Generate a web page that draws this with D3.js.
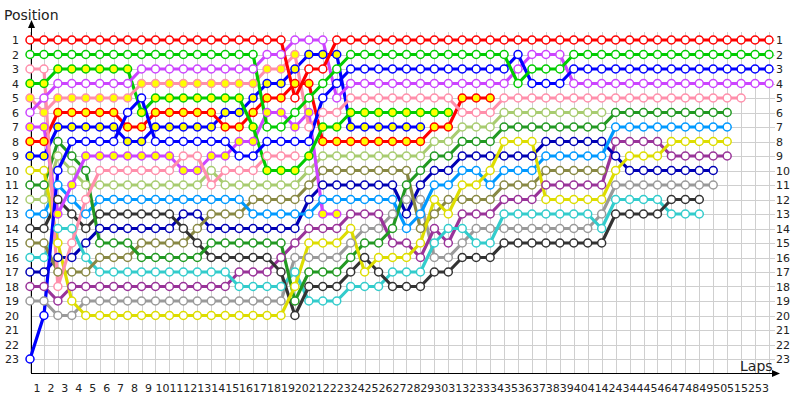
<!DOCTYPE html>
<html>
<head>
<meta charset="utf-8">
<title>Lap chart</title>
<script src="https://d3js.org/d3.v7.min.js"></script>
<style>
  body { margin: 0; background: #fff; }
  text { font-family: "DejaVu Sans", Verdana, sans-serif; fill: #222; }
  .grid line { stroke: #cfcfcf; stroke-width: 1; shape-rendering: crispEdges; }
  .tick-label { font-size: 11px; }
  .title { font-size: 14px; }
</style>
</head>
<body>
<script>
// positions per lap, index = lap (0 = grid)
var posRW  = [1,1,1,1,1,1,1,1,1,1, 1,1,1,1,1,1,1,1,1,5, 3,3,1,1,1,1,1,1,1,1, 1,1,1,1,1,1,1,1,1,1, 1,1,1,1,1,1,1,1,1,1, 1,1,1,1];
var posGW  = [2,2,2,2,2,2,2,2,2,2, 2,2,2,2,2,2,2,7,7,6, 5,4,3,2,2,2,2,2,2,2, 2,2,2,2,2,4,3,3,3,2, 2,2,2,2,2,2,2,2,2,2, 2,2,2,2];
var posBW  = [23,20,10,8,8,8,8,6,5,8, 8,8,8,8,8,9,9,8,8,8, 8,5,4,3,3,3,3,3,3,3, 3,3,3,3,3,2,4,4,4,3, 3,3,3,3,3,3,3,3,3,3, 3,3,3,3];
var posPuW = [6,5,4,4,4,4,4,4,3,3, 3,3,3,3,3,3,3,2,2,1, 1,1,5,4,4,4,4,4,4,4, 4,4,4,4,4,3,2,2,2,4, 4,4,4,4,4,4,4,4,4,4, 4,4,4,4];
var posPkY = [5,6,5,5,5,5,5,5,4,4, 4,4,4,4,4,4,4,3,3,2, 7,6,6,5,5,5,5,5,5,5, 5,6,6,6,5,5,5,5,5,5, 5,5,5,5,5,5,5,5,5,5, 5,5];
var posGY  = [4,4,3,3,3,3,3,3,6,5, 5,5,5,5,5,5,7,10,10,10, 9,7,7,6,6,6,6,6,6,6, 6];
var posPkW = [3,3,18,15,12,10,10,10,10,10, 10,9,9,11,10,10,10,9,9,9];
var posPuY = [7,7,13,11,9,9,9,9,9,9, 9,10,10,9,9,8,8,6,6,7, 6,13,13];
var posRY  = [8,8,6,6,6,6,6,7,7,6, 6,6,6,6,7,7,6,5,5,4, 4,8,8,8,8,8,8,8,8,7, 7,5,5,5];
var posBY  = [9,9,7,7,7,7,7,8,8,7, 7,7,7,7,6,6,5,4,4,3, 2,2,2,7,7,7,7,7,7];
var posYe  = [10,10,15,19,20,20,20,20,20,20, 20,20,20,20,20,20,20,20,20,18, 15,15,15,14,17,16,16,16,15,12, 13,11,11,10,8,8,8,12,12,12, 12,12,10,9,9,9,8,8,8,8, 8];
var posDG  = [11,11,8,9,10,15,15,15,16,16, 16,16,16,15,15,15,15,15,15,19, 17,17,17,16,15,15,14,11,10,9, 9,8,8,8,7,7,7,7,7,7, 7,7,6,6,6,6,6,6,6,6, 6];
var posLG  = [12,12,9,10,11,11,11,11,11,11, 11,11,11,10,11,11,11,11,11,11, 10,9,9,9,9,9,9,9,9,8, 8,7,7,7,6,6,6,6,6,6, 6,6];
var posSB  = [13,13,11,12,13,12,12,12,12,12, 12,12,12,12,12,12,13,13,13,13, 13,12,12,12,12,12,12,14,13,11, 11,10,10,11,10,10,10,9,9,9, 9,9,7,7,7,7,7,7,7,7, 7];
var posBk  = [14,14,12,13,14,13,13,13,13,13, 13,14,15,16,16,16,16,16,17,20, 18,18,18,17,16,17,18,18,18,17, 17,16,16,16,15,15,15,15,15,15, 15,15,13,13,13,13,12,12,12];
var posOl  = [15,15,17,17,17,16,16,16,15,15, 15,15,14,13,13,13,12,12,12,12, 11,10,10,10,10,10,10,10,14,13, 12,12,12,12,11,11,11,10,10,10, 10,10];
var posCy  = [16,16,14,14,16,17,17,17,17,17, 17,17,17,17,17,18,18,18,18,17, 19,19,19,18,18,18,17,17,17,15, 14,14,15,15,13,13,13,13,13,13, 13,14,12,12,12,12,13,13,13];
var posNv  = [17,17,16,16,15,14,14,14,14,14, 14,13,13,14,14,14,14,14,14,14, 12,11,11,11,11,11,11,13,11,10, 10,9,9,9,9,9,9,8,8,8, 8,8,9,10,10,10,10,10,10,10];
var posMg  = [18,18,19,18,18,18,18,18,18,18, 18,18,18,18,18,17,17,17,16,15, 14,14,14,13,13,13,15,15,16,14, 15,13,13,13,12,12,12,11,11,11, 11,11,8,8,8,8,9,9,9,9, 9];
var posGr  = [19,19,20,20,19,19,19,19,19,19, 19,19,19,19,19,19,19,19,19,16, 16,16,16,15,14,14,13,12,12,16, 16,15,14,14,14,14,14,14,14,14, 14,13,11,11,11,11,11,11,11,11];

var driverKeys   = ["Gr","Mg","Nv","Cy","Ol","Bk","SB","LG","DG","Ye","BY","RY","PuY","PkW","GY","PkY","PuW","BW","GW","RW"];
var driverColors = ["#9a9a9a","#993399","#0000b4","#33cccc","#888844","#333333","#0099ff","#a8cc70","#229922","#dddd00",
                    "#0000ff","#ff0000","#cc44ff","#ff8fab","#00cc00","#ff8fab","#cc44ff","#0000ff","#00cc00","#ff0000"];
var driverPos    = [posGr,posMg,posNv,posCy,posOl,posBk,posSB,posLG,posDG,posYe,
                    posBY,posRY,posPuY,posPkW,posGY,posPkY,posPuW,posBW,posGW,posRW];
// drivers whose markers are yellow, up to the given lap
var yellowDrivers = ["BY","RY","PuY","GY","PkY"];
var yellowLastLap = [28,33,22,30,19];

var lapTicks = d3.range(1, 54);
var posTicks = d3.range(1, 24);

var width = 800, height = 400;
var x = d3.scaleLinear().domain([0, 53]).range([30, 769]);
var y = d3.scaleLinear().domain([1, 23]).range([40, 359]);

var svg = d3.select("body").append("svg")
    .attr("width", width).attr("height", height);

// grid
var grid = svg.append("g").attr("class", "grid");
grid.selectAll(".v").data(d3.range(0, 54)).enter().append("line")
    .attr("x1", function(d) { return Math.round(x(d)) + 0.5; })
    .attr("x2", function(d) { return Math.round(x(d)) + 0.5; })
    .attr("y1", 32).attr("y2", 373);
grid.selectAll(".h").data(posTicks).enter().append("line")
    .attr("x1", 30).attr("x2", 775)
    .attr("y1", function(d) { return Math.round(y(d)) + 0.5; })
    .attr("y2", function(d) { return Math.round(y(d)) + 0.5; });

// axes
svg.append("line").attr("x1", 31.5).attr("x2", 31.5).attr("y1", 24).attr("y2", 373.5)
    .attr("stroke", "#000").attr("stroke-width", 1);
svg.append("path").attr("d", "M31.5,20 L28,28 L35,28 Z").attr("fill", "#000");
svg.append("line").attr("x1", 31).attr("x2", 776).attr("y1", 373.5).attr("y2", 373.5)
    .attr("stroke", "#000").attr("stroke-width", 1);
svg.append("path").attr("d", "M780,373.5 L772,370 L772,377 Z").attr("fill", "#000");

svg.append("text").attr("class", "title").attr("x", 4).attr("y", 20).text("Position");
svg.append("text").attr("class", "title").attr("x", 740).attr("y", 371).text("Laps");

svg.selectAll(".lapLabel").data(lapTicks).enter().append("text")
    .attr("class", "tick-label")
    .attr("x", function(d) { return x(d) - 7; })
    .attr("y", 392)
    .attr("text-anchor", "middle")
    .text(function(d) { return d; });

svg.selectAll(".posL").data(posTicks).enter().append("text")
    .attr("class", "tick-label")
    .attr("x", 19).attr("y", function(d) { return y(d) + 4; })
    .attr("text-anchor", "end")
    .text(function(d) { return d; });
svg.selectAll(".posR").data(posTicks).enter().append("text")
    .attr("class", "tick-label")
    .attr("x", 776).attr("y", function(d) { return y(d) + 4; })
    .attr("text-anchor", "start")
    .text(function(d) { return d; });

// series
var drivers = driverKeys.map(function(k, i) {
    var yi = yellowDrivers.indexOf(k);
    return {
        key: k,
        color: driverColors[i],
        yellowUntil: yi >= 0 ? yellowLastLap[yi] : -1,
        points: driverPos[i].map(function(p, lap) { return { lap: lap, pos: p }; })
            .filter(function(d) { return d.pos != null; })
    };
});

var line = d3.line()
    .x(function(d) { return x(d.lap); })
    .y(function(d) { return y(d.pos); });

var lines = svg.append("g");
lines.selectAll("path").data(drivers).enter().append("path")
    .attr("d", function(d) { return line(d.points); })
    .attr("fill", "none")
    .attr("stroke", function(d) { return d.color; })
    .attr("stroke-width", 3.2)
    .attr("stroke-linejoin", "round");

var marks = svg.append("g");
drivers.forEach(function(dr) {
    marks.append("g").selectAll("circle").data(dr.points).enter().append("circle")
        .attr("cx", function(d) { return x(d.lap); })
        .attr("cy", function(d) { return y(d.pos); })
        .attr("r", 4)
        .attr("fill", function(d) { return d.lap <= dr.yellowUntil ? "#ffff00" : "#fff"; })
        .attr("stroke", dr.color)
        .attr("stroke-width", 1.5);
});
</script>
</body>
</html>
